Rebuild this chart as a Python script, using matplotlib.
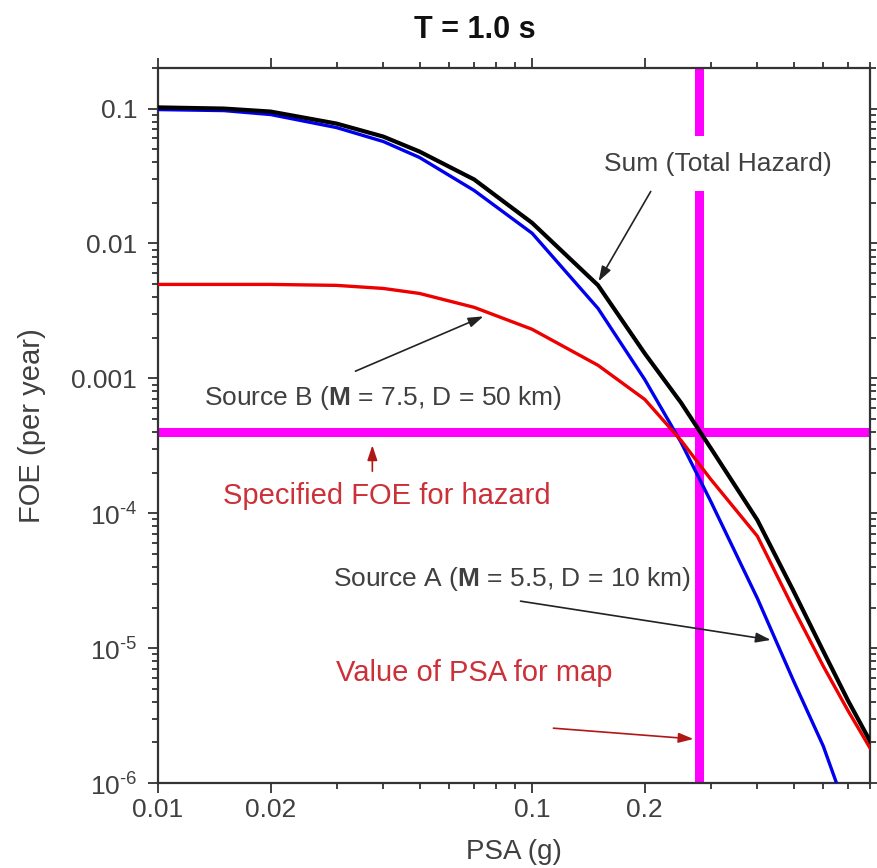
import math
import matplotlib
matplotlib.use('Agg')
import matplotlib.pyplot as plt
from matplotlib.ticker import FixedLocator, FuncFormatter, LogLocator, NullFormatter

plt.rcParams['font.family'] = ['Liberation Sans', 'DejaVu Sans']
plt.rcParams['mathtext.fontset'] = 'custom'
plt.rcParams['mathtext.rm'] = 'Liberation Sans'
plt.rcParams['mathtext.bf'] = 'Liberation Sans:bold'

# PSA (g) sample points
psa = [0.01, 0.015, 0.02, 0.03, 0.04, 0.05, 0.07, 0.1, 0.15, 0.2, 0.25, 0.3, 0.4, 0.5, 0.6, 0.7, 0.8]

# frequency of exceedance (per year)
foe_sum = [0.102, 0.100, 0.095, 0.0774, 0.062, 0.048, 0.0298, 0.0142, 0.0049, 0.00153,
           6.6e-4, 3.05e-4, 8.9e-5, 2.64e-5, 9.5e-6, 4.05e-6, 2.05e-6]
foe_a = [0.0983, 0.0966, 0.0903, 0.0723, 0.057, 0.0434, 0.0247, 0.0119, 0.0033, 9.8e-4,
         3.36e-4, 1.23e-4, 2.34e-5, 5.7e-6, 1.88e-6, 5.7e-7, 2.0e-7]
foe_b = [0.00497, 0.00497, 0.00497, 0.00489, 0.00464, 0.00426, 0.00336, 0.00231, 0.00125, 6.98e-4,
         3.47e-4, 1.79e-4, 6.76e-5, 1.95e-5, 7.36e-6, 3.41e-6, 1.82e-6]

foe_target = 4.0e-4
psa_map = 0.28

gray = '#404040'
red_txt = '#cc3038'
red_arr = '#b01818'
magenta = '#ff00ff'

fig = plt.figure(figsize=(8.77, 8.68), dpi=100)
ax = fig.add_axes([0.1802, 0.0979, 0.8118, 0.8238])

ax.axhline(foe_target, color=magenta, lw=6.5, zorder=1)
ax.axvline(psa_map, color=magenta, lw=6.5, zorder=1)

ax.plot(psa, foe_a, color='#0000ee', lw=2.4, zorder=3)
ax.plot(psa, foe_b, color='#ee0000', lw=2.4, zorder=3)
ax.plot(psa, foe_sum, color='black', lw=3.0, zorder=4)

ax.set_xscale('log')
ax.set_yscale('log')
ax.set_xlim(0.01, 0.8)
ax.set_ylim(1e-6, 0.2)

ax.xaxis.set_major_locator(FixedLocator([0.01, 0.02, 0.1, 0.2]))
ax.xaxis.set_minor_locator(LogLocator(base=10, subs=range(2, 10)))
ax.xaxis.set_major_formatter(FuncFormatter(lambda v, p: f'{v:g}'))
ax.xaxis.set_minor_formatter(NullFormatter())


def yfmt(v, p):
    if v >= 0.001:
        return f'{v:g}'
    e = int(round(math.log10(v)))
    return r'$10^{\text{%d}}$' % e


ax.yaxis.set_major_locator(FixedLocator([1e-6, 1e-5, 1e-4, 1e-3, 1e-2, 1e-1]))
ax.yaxis.set_minor_locator(LogLocator(base=10, subs=range(2, 10)))
ax.yaxis.set_major_formatter(FuncFormatter(yfmt))
ax.yaxis.set_minor_formatter(NullFormatter())

ax.tick_params(which='both', direction='out', top=True, right=True,
               colors='#333333', labelcolor=gray, labelsize=19, width=1.3)
ax.tick_params(which='major', length=7, pad=4)
ax.tick_params(which='minor', length=4)
ax.tick_params(axis='y', which='major', pad=8)
for s in ax.spines.values():
    s.set_linewidth(1.6)
    s.set_color('#333333')

ax.set_xlabel('PSA (g)', fontsize=20, color=gray, labelpad=12)
ax.set_ylabel('FOE (per year)', fontsize=21, color=gray, labelpad=18)
fig.text(0.541, 0.965, 'T = 1.0 s', ha='center', va='center', fontsize=22,
         fontweight='bold', color='#111111')

black_arrow = dict(arrowstyle='-|>,head_length=0.9,head_width=0.3', color='#222222', lw=1.2,
                   shrinkA=0, shrinkB=0)
red_arrow = dict(arrowstyle='-|>,head_length=0.9,head_width=0.3', color=red_arr, lw=1.2,
                 shrinkA=0, shrinkB=0)

ax.text(0.313, 0.039, 'Sum (Total Hazard)', ha='center', va='center', fontsize=19,
        color=gray, zorder=5, bbox=dict(facecolor='white', edgecolor='none', pad=11))
ax.annotate('', xy=(0.1505, 0.00524), xytext=(0.2075, 0.0243), arrowprops=black_arrow, zorder=6)

ax.text(0.040, 7.1e-4, r'Source B ($\mathbf{M}$ = 7.5, D = 50 km)', ha='center', va='center',
        fontsize=19, color=gray, zorder=5)
ax.annotate('', xy=(0.0741, 2.88e-3), xytext=(0.0337, 1.13e-3), arrowprops=black_arrow, zorder=6)

ax.text(0.041, 1.34e-4, 'Specified FOE for hazard', ha='center', va='center',
        fontsize=21, color=red_txt, zorder=5)
ax.annotate('', xy=(0.0374, 3.19e-4), xytext=(0.0374, 2.05e-4), arrowprops=red_arrow, zorder=6)

ax.text(0.0886, 3.24e-5, r'Source A ($\mathbf{M}$ = 5.5, D = 10 km)', ha='center', va='center',
        fontsize=19, color=gray, zorder=5)
ax.annotate('', xy=(0.4345, 1.15e-5), xytext=(0.0931, 2.23e-5), arrowprops=black_arrow, zorder=6)

ax.text(0.070, 6.5e-6, 'Value of PSA for map', ha='center', va='center',
        fontsize=21, color=red_txt, zorder=5)
ax.annotate('', xy=(0.270, 2.12e-6), xytext=(0.114, 2.55e-6), arrowprops=red_arrow, zorder=6)

fig.savefig('out.png', dpi=100)
